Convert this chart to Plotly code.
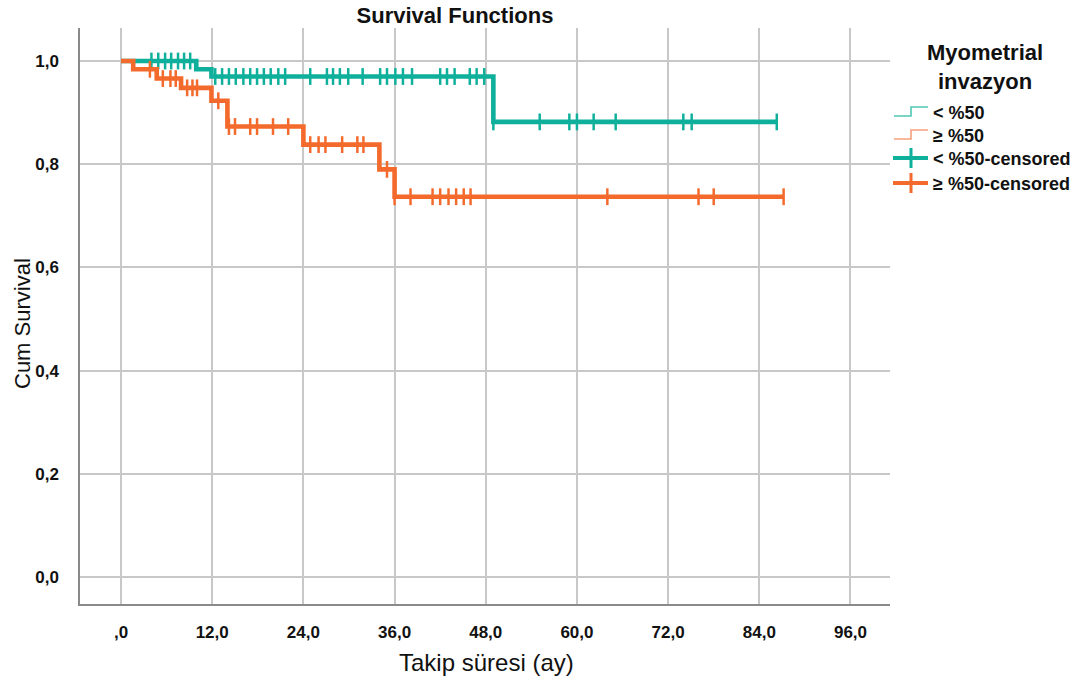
import numpy as np
import plotly.graph_objects as go

# Kaplan-Meier step estimates (time in months, cumulative survival)
low_times = [0.0, 9.9, 11.9, 49.0, 86.3]
low_surv = [1.000, 0.984, 0.970, 0.882, 0.882]
high_times = [0.0, 1.6, 4.7, 7.9, 11.9, 14.0, 24.0, 34.0, 36.0, 87.2]
high_surv = [1.000, 0.984, 0.966, 0.948, 0.923, 0.873, 0.838, 0.790, 0.737, 0.737]

# Censored follow-up times
low_censored = [4.0, 4.9, 5.8, 6.6, 7.5, 8.3, 9.1,
                12.4, 13.3, 14.2, 15.1, 16.1, 17.0, 17.9, 18.8, 19.7, 20.7, 21.6,
                24.9, 27.1, 27.9, 28.8, 29.9, 31.8, 34.1, 35.0, 36.1, 37.1, 38.3,
                42.0, 42.9, 43.9, 45.9, 46.8, 47.8,
                49.0, 55.1, 59.0, 60.0, 62.2, 65.1, 74.0, 75.1, 86.3]
high_censored = [3.8, 5.5, 6.5, 7.2, 8.7, 9.4, 10.0, 12.8,
                 14.2, 15.0, 17.0, 17.9, 20.0, 22.0,
                 24.9, 26.0, 26.9, 29.1, 31.1, 31.9, 35.0,
                 36.0, 38.1, 41.0, 42.0, 43.1, 44.1, 45.1, 46.0, 64.0, 76.0, 78.0, 87.2]

group_names = ["< %50", "≥ %50"]
x_ticks = [0, 12, 24, 36, 48, 60, 72, 84, 96]
x_tick_text = [",0", "12,0", "24,0", "36,0", "48,0", "60,0", "72,0", "84,0", "96,0"]
y_ticks = [0.0, 0.2, 0.4, 0.6, 0.8, 1.0]
y_tick_text = ["0,0", "0,2", "0,4", "0,6", "0,8", "1,0"]

TEAL = "#0fb09b"
ORANGE = "#f46a2c"
TEAL_LIGHT = "#4fc8b4"
ORANGE_LIGHT = "#f7a07c"


def surv_at(times, surv, t):
    idx = np.searchsorted(np.asarray(times), np.asarray(t), side="right") - 1
    return np.asarray(surv)[idx]


fig = go.Figure()
for times, surv, cens, col, name in [
    (low_times, low_surv, low_censored, TEAL, group_names[0]),
    (high_times, high_surv, high_censored, ORANGE, group_names[1]),
]:
    fig.add_trace(go.Scatter(x=times, y=surv, mode="lines", line=dict(color=col, width=4.6, shape="hv"),
                             name=name, showlegend=False, hoverinfo="skip"))
    fig.add_trace(go.Scatter(x=cens, y=surv_at(times, surv, cens), mode="markers",
                             marker=dict(symbol="line-ns", size=12, line=dict(width=2.5, color=col)),
                             name=name + "-censored", showlegend=False))

# page geometry (pixels)
W, H = 1083, 682
L, R, T, B = 80, 193, 28, 78
PW, PH = W - L - R, H - T - B


def px(x):
    return (x - L) / PW


def py(y):
    return (H - B - y) / PH


shapes = []
annotations = []

# custom legend
legend_font = dict(family="Liberation Sans, Arial", size=18, color="#111111")
annotations.append(dict(x=px(985), y=py(67), xref="paper", yref="paper", text="<b>Myometrial<br>invazyon</b>",
                        showarrow=False, font=dict(family="Liberation Sans, Arial", size=22, color="#111111"),
                        xanchor="center", yanchor="middle", align="center"))
rows = [
    (112, "step", TEAL_LIGHT, "< %50"),
    (135, "step", ORANGE_LIGHT, "≥ %50"),
    (158, "cross", TEAL, "< %50-censored"),
    (183, "cross", ORANGE, "≥ %50-censored"),
]
for yc, kind, col, label in rows:
    if kind == "step":
        path = "M {} {} L {} {} L {} {} L {} {}".format(
            px(894), py(yc + 4), px(911), py(yc + 4), px(911), py(yc - 5), px(928), py(yc - 5))
        shapes.append(dict(type="path", path=path, xref="paper", yref="paper",
                           line=dict(color=col, width=1.6)))
    else:
        shapes.append(dict(type="line", x0=px(893), x1=px(928), y0=py(yc), y1=py(yc), xref="paper", yref="paper",
                           line=dict(color=col, width=4)))
        shapes.append(dict(type="line", x0=px(911), x1=px(911), y0=py(yc - 10), y1=py(yc + 10),
                           xref="paper", yref="paper", line=dict(color=col, width=3)))
    annotations.append(dict(x=px(931), y=py(yc + 1), xref="paper", yref="paper", text="<b>" + label + "</b>",
                            showarrow=False, font=legend_font, xanchor="left", yanchor="middle"))

# axis titles
annotations.append(dict(x=px(22), y=py(324), xref="paper", yref="paper", text="Cum Survival", textangle=-90,
                        showarrow=False, font=dict(family="Liberation Sans, Arial", size=22, color="#111111"),
                        xanchor="center", yanchor="middle"))
annotations.append(dict(x=px(486), y=py(662), xref="paper", yref="paper", text="Takip süresi (ay)",
                        showarrow=False, font=dict(family="Liberation Sans, Arial", size=24, color="#111111"),
                        xanchor="center", yanchor="middle"))

tick_font = dict(family="Liberation Sans Narrow, Arial Narrow, Liberation Sans", size=17, color="#111111",
                 weight="bold")

fig.update_layout(
    width=W, height=H,
    margin=dict(l=L, r=R, t=T, b=B, autoexpand=False),
    paper_bgcolor="white", plot_bgcolor="white",
    title=dict(text="<b>Survival Functions</b>", x=455 / W, y=1 - 15 / H, xref="container", yref="container",
               xanchor="center", yanchor="middle",
               font=dict(family="Liberation Sans, Arial", size=22, color="#111111")),
    showlegend=False,
    shapes=shapes,
    annotations=annotations,
    xaxis=dict(range=[-5.4, 101.2], tickvals=x_ticks, ticktext=x_tick_text, showgrid=True,
               gridcolor="#c8c8c8", gridwidth=1.5, zeroline=False, showline=True, linecolor="#8a8a8a",
               linewidth=1.5, ticks="", tickfont=tick_font, ticklabelstandoff=12, fixedrange=True),
    yaxis=dict(range=[-0.0523, 1.064], tickvals=y_ticks, ticktext=y_tick_text, showgrid=True,
               gridcolor="#c8c8c8", gridwidth=1.5, zeroline=False, showline=True, linecolor="#8a8a8a",
               linewidth=1.5, ticks="", tickfont=tick_font, ticklabelstandoff=16, fixedrange=True),
)

fig.write_html("out.html")
